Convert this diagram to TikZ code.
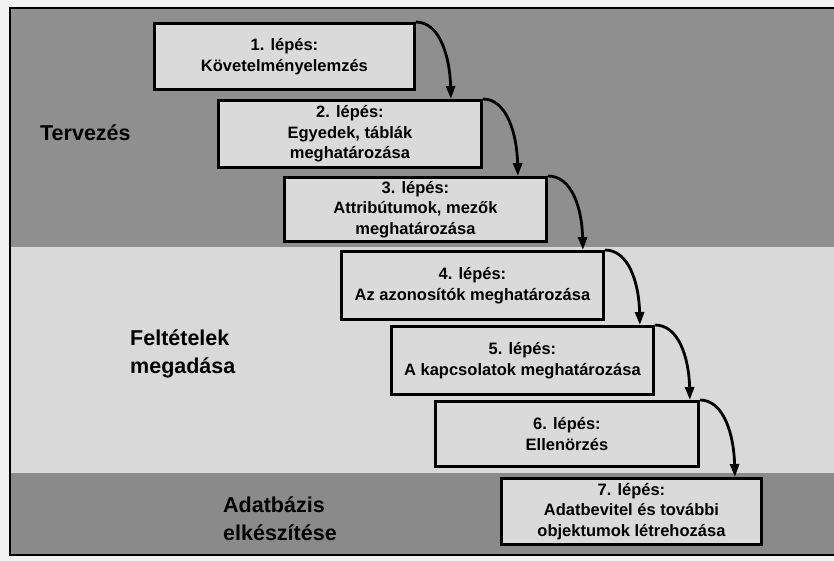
\documentclass[tikz,border=0pt]{standalone}
\usepackage{fontspec}
\setmainfont{Liberation Sans}
\usetikzlibrary{arrows.meta,calc}
\definecolor{bandtop}{RGB}{143,143,143}
\definecolor{bandmid}{RGB}{217,217,217}
\definecolor{bandbot}{RGB}{138,138,138}
\definecolor{boxfill}{RGB}{218,218,218}
\definecolor{outside}{RGB}{242,242,242}
\begin{document}
\begin{tikzpicture}[x=1pt,y=-1pt,
  stepbox/.style={draw=black, line width=2.9pt, fill=boxfill, align=center,
    font=\bfseries\fontsize{16.5}{20.5}\selectfont, inner sep=0pt,
    minimum width=262pt, anchor=north west},
  phase/.style={align=left, anchor=west, inner sep=0pt,
    font=\bfseries\fontsize{21.5}{28}\selectfont},
  flow/.style={line width=2.8pt, -{Triangle[length=13pt,width=9pt]}}]
\useasboundingbox (0,0) rectangle (834,561);
\fill[outside] (0,0) rectangle (834,561);
% bands
\fill[bandtop] (10,8) rectangle (840,247);
\fill[bandmid] (10,247) rectangle (840,473);
\fill[bandbot] (10,473) rectangle (840,555);
\draw[line width=2.5pt] (840,8) -- (10,8) -- (10,555) -- (840,555);
% phase labels
\node[phase] (ph1) at (40,133) {Tervezés};
\node[phase] (ph2) at (130,354) {Feltételek\\megadása};
\node[phase] (ph3) at (223,519) {Adatbázis\\elkészítése};
% steps
\node[stepbox, minimum width=260pt, minimum height=66pt] (b1) at (153,22) {1. lépés:\\Követelményelemzés};
\node[stepbox, minimum width=263pt, minimum height=67pt] (b2) at (217,99) {2. lépés:\\Egyedek, táblák\\meghatározása};
\node[stepbox, minimum height=64pt] (b3) at (283,176) {3. lépés:\\Attribútumok, mezők\\meghatározása};
\node[stepbox, minimum height=68pt] (b4) at (340,250) {4. lépés:\\Az azonosítók meghatározása};
\node[stepbox, minimum height=68pt] (b5) at (390,325) {5. lépés:\\A kapcsolatok meghatározása};
\node[stepbox, minimum width=263pt, minimum height=65pt] (b6) at (434,400) {6. lépés:\\Ellenörzés};
\node[stepbox, minimum width=260pt, minimum height=66pt] (b7) at (500,477) {7. lépés:\\Adatbevitel és további\\objektumok létrehozása};
% arrows
\foreach \a/\b in {b1/b2,b2/b3,b3/b4,b4/b5,b5/b6,b6/b7}{
  \draw[flow] let \p1=(\a.north east), \p2=(\b.north) in
    (\p1) .. controls (\x1+24pt,\y1) and (\x1+34pt,\y2+42pt) .. (\x1+35pt,\y2);
}
\end{tikzpicture}
\end{document}
